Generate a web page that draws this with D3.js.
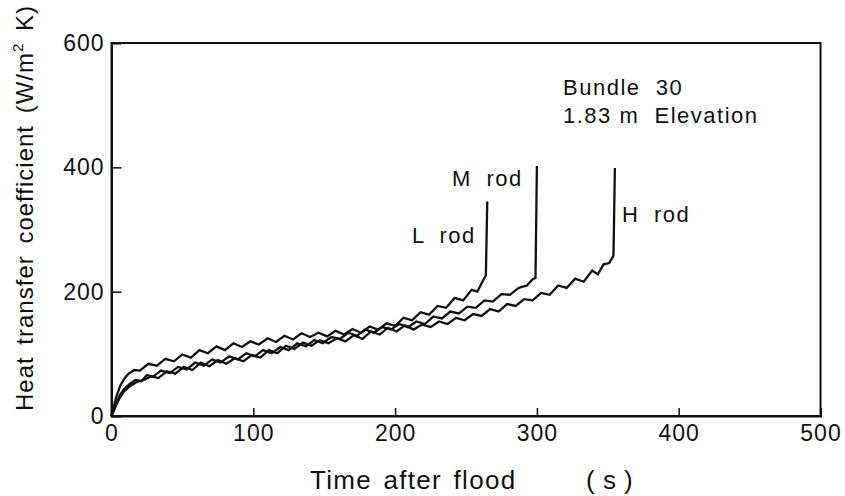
<!DOCTYPE html>
<html>
<head>
<meta charset="utf-8">
<script src="https://cdn.jsdelivr.net/npm/d3@7"></script>
<style>
  html, body { margin: 0; padding: 0; background: #fff; }
  svg { display: block; }
  text { font-family: "Liberation Sans", Arial, sans-serif; fill: #111; }
</style>
</head>
<body>
<svg id="chart" width="845" height="496"></svg>
<script>
// ---- data ----
const xTicks = [0, 100, 200, 300, 400, 500];
const yTicks = [0, 200, 400, 600];

const lRodTime = [0,3,6,9,12,16,20,26,32,38,44,50,56,62,68,74,80,86,92,98,104,110,116,122,128,134,140,146,152,158,164,170,176,182,188,194,200,206,212,218,224,230,236,242,248,254,258,262,264,265];
const lRodHtc  = [0,28,48,60,68,74,73,84,81,92,88,99,94,106,101,112,106,117,111,120,115,125,119,129,123,133,127,134,128,137,131,140,134,144,139,149,145,158,154,167,163,177,174,190,186,203,200,218,226,345];

const mRodTime = [0,3,6,9,13,17,21,25,29,35,41,47,53,59,65,71,77,83,89,95,101,107,113,119,125,131,137,143,149,155,161,167,173,179,185,191,197,203,209,215,221,227,233,239,245,251,257,263,269,275,281,287,293,297,299,300];
const mRodHtc  = [0,18,34,44,52,58,56,66,63,73,69,79,75,86,81,91,86,96,91,101,96,106,101,111,106,117,112,122,117,127,124,134,129,139,134,143,139,148,143,152,148,160,157,168,165,176,174,186,184,196,195,206,210,220,222,402];

const hRodTime = [0,3,6,9,13,18,23,28,33,39,45,51,57,63,69,75,81,87,93,99,105,111,117,123,129,135,141,147,153,159,165,171,177,183,189,195,201,207,213,219,225,231,237,243,249,255,261,267,273,279,285,291,297,303,309,315,321,327,333,339,343,347,351,354,355];
const hRodHtc  = [0,16,30,40,48,55,58,64,61,72,68,79,74,86,80,90,84,93,88,98,94,106,101,113,108,118,113,122,117,125,120,130,124,136,131,142,136,146,139,147,143,152,148,158,154,164,161,172,168,180,177,188,186,198,195,210,206,221,216,234,228,244,246,258,399];

const rodNames = ["L rod", "M rod", "H rod"];
const noteLines = ["Bundle  30", "1.83 m  Elevation"];

// ---- layout ----
const svg = d3.select("#chart");
const x = d3.scaleLinear().domain([0, 500]).range([111.5, 820.5]);
const y = d3.scaleLinear().domain([0, 600]).range([416, 43]);

// frame
svg.append("rect")
  .attr("x", x(0)).attr("y", y(600))
  .attr("width", x(500) - x(0)).attr("height", y(0) - y(600))
  .attr("fill", "none").attr("stroke", "#111").attr("stroke-width", 2);

// axes
const xAxis = d3.axisBottom(x).tickValues(xTicks).tickSize(-8).tickPadding(9).tickFormat(d3.format("d"));
const yAxis = d3.axisLeft(y).tickValues(yTicks).tickSize(-10).tickPadding(7).tickFormat(d3.format("d"));

const gx = svg.append("g").attr("transform", `translate(0,${y(0)})`).call(xAxis);
const gy = svg.append("g").attr("transform", `translate(${x(0)},0)`).call(yAxis);
[gx, gy].forEach(g => {
  g.select(".domain").attr("stroke", "#111").attr("stroke-width", 2);
  g.selectAll(".tick line").attr("stroke", "#111").attr("stroke-width", 1.5);
  g.selectAll(".tick text").attr("font-size", 23).attr("fill", "#111")
    .attr("letter-spacing", 1)
    .style("font-family", "'Liberation Sans', Arial, sans-serif");
});
gx.selectAll(".tick").filter(d => d === 0 || d === 500).select("line").remove();
gy.selectAll(".tick").filter(d => d === 0 || d === 600).select("line").remove();

// axis titles
svg.append("text")
  .attr("x", 310).attr("y", 489)
  .attr("font-size", 26)
  .attr("letter-spacing", 1.3)
  .attr("word-spacing", 3)
  .text("Time  after  flood");
svg.append("text")
  .attr("x", 586).attr("y", 489)
  .attr("font-size", 26)
  .attr("letter-spacing", 0.5)
  .style("white-space", "pre")
  .text("( s )");

const yt = svg.append("text")
  .attr("transform", "translate(33,208) rotate(-90)")
  .attr("text-anchor", "middle")
  .attr("font-size", 24)
  .attr("letter-spacing", 1)
  .attr("word-spacing", 4);
yt.append("tspan").text("Heat  transfer  coefficient  (W/m");
yt.append("tspan").attr("font-size", 15).attr("dy", -10).text("2");
yt.append("tspan").attr("dy", 10).text(" K)");

// curves
const series = [
  { t: lRodTime, v: lRodHtc },
  { t: mRodTime, v: mRodHtc },
  { t: hRodTime, v: hRodHtc }
];
const line = d3.line().x(d => x(d[0])).y(d => y(d[1]));
svg.append("g").selectAll("path")
  .data(series)
  .join("path")
  .attr("d", s => line(s.t.map((t, i) => [t, s.v[i]])))
  .attr("fill", "none")
  .attr("stroke", "#111")
  .attr("stroke-width", 2.3)
  .attr("stroke-linejoin", "miter");

// rod labels
const rodLabelPos = [[412, 243], [452, 186], [622, 222]];
svg.append("g").selectAll("text")
  .data(rodNames)
  .join("text")
  .attr("x", (d, i) => rodLabelPos[i][0])
  .attr("y", (d, i) => rodLabelPos[i][1])
  .attr("font-size", 22)
  .attr("letter-spacing", 1.5)
  .attr("word-spacing", 7)
  .text(d => d);

// annotation
svg.append("g").selectAll("text")
  .data(noteLines)
  .join("text")
  .attr("x", 563)
  .attr("y", (d, i) => 95 + i * 28)
  .attr("font-size", 22)
  .attr("letter-spacing", 1.5)
  .style("white-space", "pre")
  .text(d => d);
</script>
</body>
</html>
